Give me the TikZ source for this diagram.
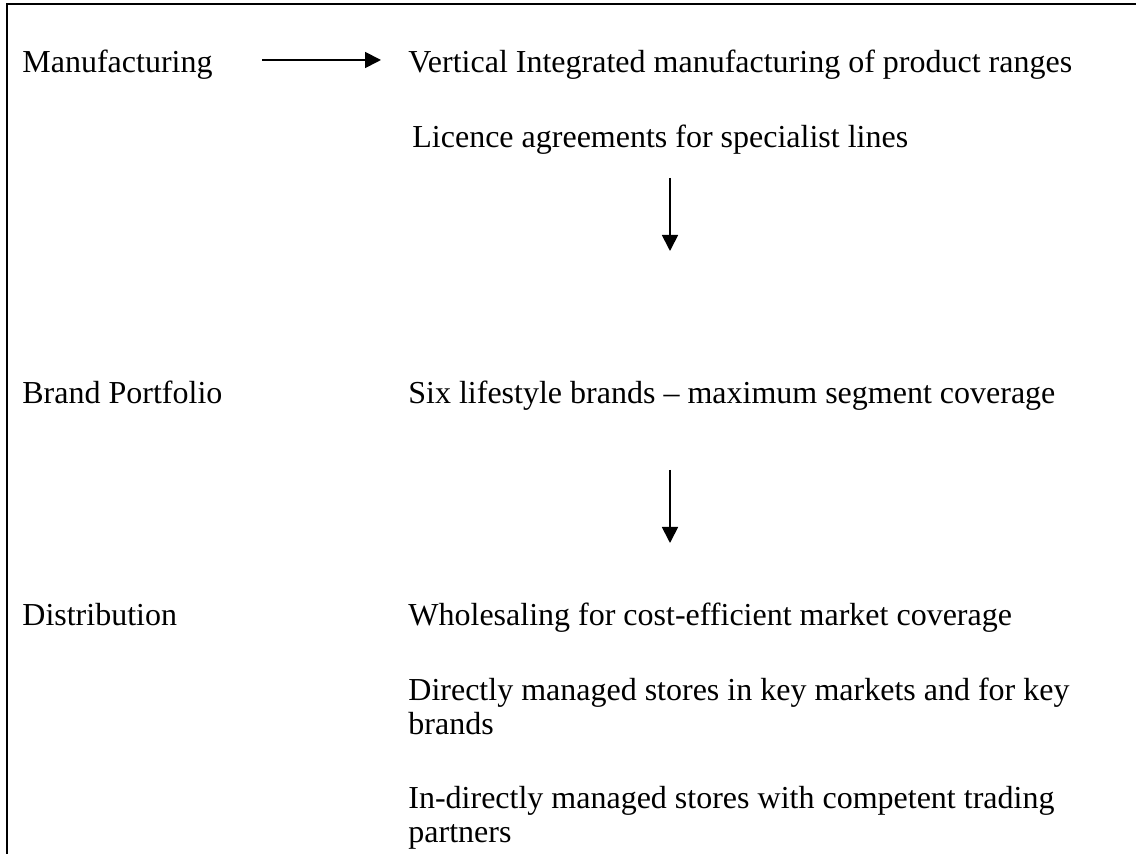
\documentclass[tikz,border=0pt]{standalone}
\usepackage{fontspec}
\setmainfont{Liberation Serif}
\usetikzlibrary{arrows.meta}
\tikzstyle{label}=[anchor=base west,inner sep=0pt,align=left,font=\fontsize{16}{17}\selectfont]
\tikzstyle{flow} = [draw,line width=0.9pt,-{Triangle[length=8pt,width=8pt]}]
\tikzstyle{frame} = [draw,line width=1.3pt]

\begin{document}
\begin{tikzpicture}[x=0.5pt,y=-0.5pt]
    \useasboundingbox (0,0) rectangle (1136,854);
    % open frame: left and top only
    \draw[frame] (7,854) -- (7,4) -- (1136,4);
    % left column
    \node[label] (manu) at (22,73) {Manufacturing};
    \node[label] (brand) at (22,404) {Brand Portfolio};
    \node[label] (distr) at (22,626) {Distribution};
    % right column (two-line nodes sit on their last line)
    \node[label] (vert) at (408,73) {Vertical Integrated manufacturing of product ranges};
    \node[label] (licence) at (412,148) {Licence agreements for specialist lines};
    \node[label] (six) at (408,404) {Six lifestyle brands -- maximum segment coverage};
    \node[label] (whole) at (408,626) {Wholesaling for cost-efficient market coverage};
    \node[label] (direct) at (408,735) {Directly managed stores in key markets and for key\\brands};
    \node[label] (indirect) at (408,843) {In-directly managed stores with competent trading\\partners};
    % arrows
    \coordinate (a1s) at (262,60);
    \coordinate (a1e) at (381,60);
    \coordinate (a2s) at (670,178);
    \coordinate (a2e) at (670,251);
    \coordinate (a3s) at (670,470);
    \coordinate (a3e) at (670,543);
    \path[flow] (a1s) -- (a1e);
    \path[flow] (a2s) -- (a2e);
    \path[flow] (a3s) -- (a3e);
\end{tikzpicture}
\end{document}
